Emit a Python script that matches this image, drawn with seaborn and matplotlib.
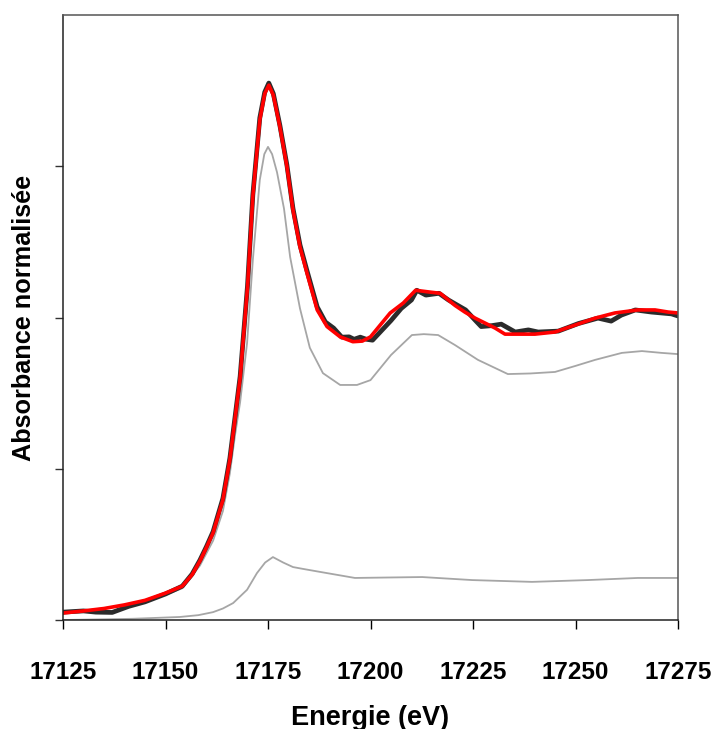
import matplotlib
matplotlib.use("Agg")
import matplotlib.pyplot as plt
import seaborn as sns

# experimental spectrum (noisy, dark)
energy_exp = [17125, 17130, 17133, 17137, 17141, 17145, 17150, 17154.1, 17156.5, 17158.4,
              17160, 17161.6, 17164, 17165.7, 17167, 17168.2, 17169.4, 17170, 17171.3, 17173,
              17174.2, 17175.2, 17176.3, 17177.9, 17179.6, 17181.1, 17182.8, 17184.5, 17187, 17189,
              17191, 17193, 17194.8, 17196, 17197.5, 17199, 17200.5, 17205, 17207.5, 17210,
              17211.3, 17213.5, 17216.7, 17219, 17223.2, 17225.6, 17227, 17229.5, 17231.9, 17235.3,
              17238.5, 17240.9, 17245.8, 17250.7, 17255.5, 17258.7, 17261.2, 17264.6, 17268.5, 17273.4,
              17275]
absorb_exp = [0.026, 0.030, 0.026, 0.025, 0.045, 0.060, 0.086, 0.112, 0.152, 0.198,
              0.243, 0.292, 0.402, 0.535, 0.675, 0.805, 1.005, 1.105, 1.405, 1.660,
              1.745, 1.775, 1.740, 1.635, 1.505, 1.360, 1.240, 1.155, 1.035, 0.985,
              0.965, 0.935, 0.936, 0.928, 0.935, 0.928, 0.925, 0.990, 1.030, 1.058,
              1.090, 1.074, 1.080, 1.058, 1.025, 0.990, 0.970, 0.973, 0.978, 0.952,
              0.959, 0.952, 0.955, 0.980, 0.998, 0.988, 1.008, 1.025, 1.018, 1.012,
              1.005]

# fitted spectrum (red)
energy_fit = [17125, 17130, 17135, 17140, 17145, 17150, 17154.1, 17156.5, 17158.4, 17160,
              17161.6, 17164, 17165.7, 17167, 17168.2, 17169.4, 17170, 17171.3, 17173, 17174.2,
              17175.2, 17176.3, 17177.9, 17179.6, 17181.1, 17182.8, 17184.5, 17187, 17189.4, 17192.6,
              17195.7, 17198, 17200, 17204.8, 17208, 17211, 17214.5, 17217, 17220.6, 17223,
              17225.5, 17230.4, 17232.8, 17240.1, 17245, 17249.9, 17254.8, 17259.6, 17265.2, 17269.4,
              17272.6, 17275]
absorb_fit = [0.023, 0.030, 0.038, 0.050, 0.065, 0.089, 0.112, 0.150, 0.195, 0.240,
              0.288, 0.397, 0.530, 0.670, 0.800, 1.000, 1.100, 1.400, 1.653, 1.740,
              1.768, 1.735, 1.630, 1.500, 1.355, 1.233, 1.147, 1.025, 0.970, 0.936,
              0.920, 0.922, 0.936, 1.015, 1.048, 1.090, 1.084, 1.080, 1.040, 1.018,
              0.998, 0.965, 0.945, 0.945, 0.952, 0.975, 0.998, 1.015, 1.025, 1.025,
              1.018, 1.015]

# main component (grey, upper)
energy_main = [17125, 17140, 17150, 17154.1, 17158.4, 17161.6, 17164, 17165.7, 17167, 17168.2,
               17169.9, 17171.3, 17173, 17174.1, 17175, 17176, 17177.2, 17178.9, 17180.4, 17182.8,
               17185.2, 17188.4, 17192.6, 17196.7, 17200, 17205, 17210.1, 17213, 17216.5, 17220.6,
               17226.2, 17233.5, 17239, 17245, 17250, 17254.8, 17261.3, 17266.2, 17271, 17275]
absorb_main = [0.022, 0.048, 0.083, 0.105, 0.180, 0.262, 0.360, 0.485, 0.615, 0.720,
               0.916, 1.190, 1.455, 1.540, 1.564, 1.540, 1.480, 1.360, 1.200, 1.030,
               0.900, 0.816, 0.777, 0.777, 0.793, 0.876, 0.942, 0.945, 0.942, 0.909,
               0.860, 0.813, 0.815, 0.820, 0.840, 0.860, 0.883, 0.889, 0.883, 0.879]

# minor component (grey, lower)
energy_minor = [17125, 17142, 17153.5, 17158, 17161.6, 17164, 17166.5, 17169.9, 17172.3, 17174.3,
                17176.2, 17178.7, 17181.1, 17183.5, 17187.7, 17196.2, 17212.6, 17224.8, 17239.4, 17253,
                17265.2, 17275]
absorb_minor = [0.000, 0.004, 0.010, 0.016, 0.026, 0.038, 0.056, 0.100, 0.155, 0.190,
                0.208, 0.190, 0.175, 0.169, 0.159, 0.139, 0.142, 0.132, 0.126, 0.132,
                0.139, 0.139]

sns.set_style("ticks")
plt.rcParams["font.family"] = ["Liberation Sans", "DejaVu Sans"]
plt.rcParams["font.weight"] = "bold"
plt.rcParams["text.color"] = "black"
plt.rcParams["axes.labelcolor"] = "black"

fig = plt.figure(figsize=(7.15, 7.29), dpi=100)
ax = fig.add_axes([63 / 715, 109 / 729, 615 / 715, 605 / 729])

grey = "#a6a6a6"
sns.lineplot(x=energy_main, y=absorb_main, ax=ax, color=grey, linewidth=1.3, estimator=None)
sns.lineplot(x=energy_minor, y=absorb_minor, ax=ax, color=grey, linewidth=1.3, estimator=None)
sns.lineplot(x=energy_exp, y=absorb_exp, ax=ax, color="#2b2b2b", linewidth=3.4, estimator=None)
sns.lineplot(x=energy_fit, y=absorb_fit, ax=ax, color="#ff0000", linewidth=2.6, estimator=None)

ax.set_xlim(17125, 17275)
ax.set_ylim(0, 2.0)
ax.set_xticks([17125, 17150, 17175, 17200, 17225, 17250, 17275])
ax.set_yticks([0, 0.5, 1.0, 1.5])
ax.set_yticklabels([])
ax.tick_params(axis="x", direction="out", length=6.5, width=1, pad=23,
               labelsize=17.5, colors="black")
ax.tick_params(axis="y", direction="out", length=6, width=1, colors="#333333")
for lab in ax.get_xticklabels():
    lab.set_fontweight("bold")

for side in ["left", "bottom"]:
    ax.spines[side].set_color("#222222")
    ax.spines[side].set_linewidth(1.1)
for side in ["top", "right"]:
    ax.spines[side].set_visible(True)
    ax.spines[side].set_color("#555555")
    ax.spines[side].set_linewidth(1.1)

ax.set_xlabel("Energie (eV)", fontsize=19.5, fontweight="bold", labelpad=15)
ax.set_ylabel("Absorbance normalisée", fontsize=18.2, fontweight="bold", labelpad=10)

fig.savefig("out.png", dpi=100)
